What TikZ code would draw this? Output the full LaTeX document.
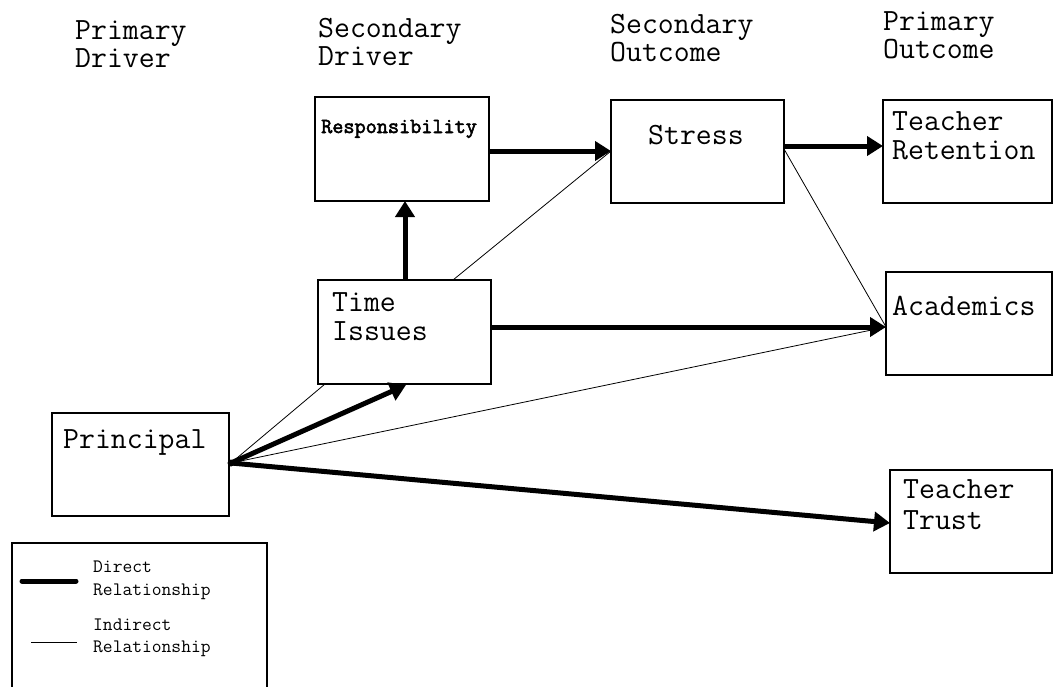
\documentclass[tikz,border=0pt]{standalone}
\usepackage{fontspec}
\newfontfamily\cour{Latin Modern Mono}
\newfontfamily\courbold[FakeBold=2.5]{Latin Modern Mono}
\usetikzlibrary{arrows.meta}
\tikzset{
  box/.style={draw=black, line width=1.2pt, inner sep=0pt},
  big/.style={font=\cour\fontsize{30.9}{28}\selectfont, anchor=base west, inner sep=0pt, align=left},
  respfont/.style={font=\courbold\fontsize{21.6}{23}\selectfont, anchor=base west, inner sep=0pt},
  legfont/.style={font=\cour\fontsize{19}{23}\selectfont, anchor=base west, inner sep=0pt, align=left},
  direct/.style={line width=5pt, -{Triangle[length=16pt,width=19pt]}},
  directline/.style={line width=5pt, line cap=round},
  indirect/.style={line width=0.8pt},
}
\begin{document}
\begin{tikzpicture}[x=1pt,y=-1pt]
\useasboundingbox[fill=white] (0,0) rectangle (1054,686);

% headers (anchor = baseline of the last line)
\node[big] (h1) at (75,67) {Primary\\Driver};
\node[big] (h2) at (318,65) {Secondary\\Driver};
\node[big] (h3) at (610,61) {Secondary\\Outcome};
\node[big] (h4) at (883,58) {Primary\\Outcome};

% boxes
\node[box, minimum width=174pt, minimum height=104pt] (resp) at (402,149) {};
\node[box, minimum width=173pt, minimum height=103pt] (stress) at (697.5,151.5) {};
\node[box, minimum width=169pt, minimum height=103pt] (ret) at (967.5,151.5) {};
\node[box, minimum width=173pt, minimum height=104pt] (time) at (404.5,332) {};
\node[box, minimum width=166pt, minimum height=103pt] (acad) at (969,323.5) {};
\node[box, minimum width=177pt, minimum height=103pt] (prin) at (140.5,464.5) {};
\node[box, minimum width=162pt, minimum height=103pt] (trust) at (971,521.5) {};

% box texts
\node[respfont] (tresp) at (321,133) {Responsibility};
\node[big] (tstress) at (648,144) {Stress};
\node[big, font=\cour\fontsize{30.9}{29}\selectfont] (tret) at (892,159) {Teacher\\Retention};
\node[big, font=\cour\fontsize{30.9}{29}\selectfont] (ttime) at (332,340) {Time\\Issues};
\node[big] (tacad) at (892,315) {Academics};
\node[big] (tprin) at (63,448) {Principal};
\node[big, font=\cour\fontsize{30.9}{31}\selectfont] (ttr) at (903,529) {Teacher\\Trust};

% connection points
\coordinate (p0) at (231,463);
\coordinate (tiTop) at (405,280);
\coordinate (respBot) at (405,201);
\coordinate (tiTopR) at (453,280);
\coordinate (stressIn) at (611,151);
\coordinate (respOut) at (489,151);
\coordinate (stressOut) at (784,146);
\coordinate (retIn) at (883,146);
\coordinate (stressOut2) at (784,149);
\coordinate (tiOut) at (491,327);
\coordinate (acadIn) at (886,327);
\coordinate (tiIn) at (406,385);
\coordinate (tiSW) at (325,384);
\coordinate (trustIn) at (890,523);

% indirect
\draw[indirect] (p0) -- (tiSW);
\draw[indirect] (p0) -- (acadIn);
\draw[indirect] (tiTopR) -- (stressIn);
\draw[indirect] (stressOut2) -- (acadIn);

% direct
\draw[direct] (respOut) -- (stressIn);
\draw[direct] (stressOut) -- (retIn);
\draw[direct] (tiTop) -- (respBot);
\draw[direct] (tiOut) -- (acadIn);
\draw[direct] (p0) -- (tiIn);
\draw[direct] (p0) -- (trustIn);
\fill (p0) circle (3.5pt);

% legend
\draw[line width=1.2pt] (12,690) -- (12,543) -- (267,543) -- (267,690);
\coordinate (l1a) at (22,581);
\coordinate (l1b) at (76,581);
\coordinate (l2a) at (31,642);
\coordinate (l2b) at (77,642);
\draw[directline] (l1a) -- (l1b);
\draw[indirect] (l2a) -- (l2b);
\node[legfont] (lt1) at (93,595) {Direct\\Relationship};
\node[legfont, font=\cour\fontsize{19}{22}\selectfont] (lt2) at (93,652) {Indirect\\Relationship};
\end{tikzpicture}
\end{document}
